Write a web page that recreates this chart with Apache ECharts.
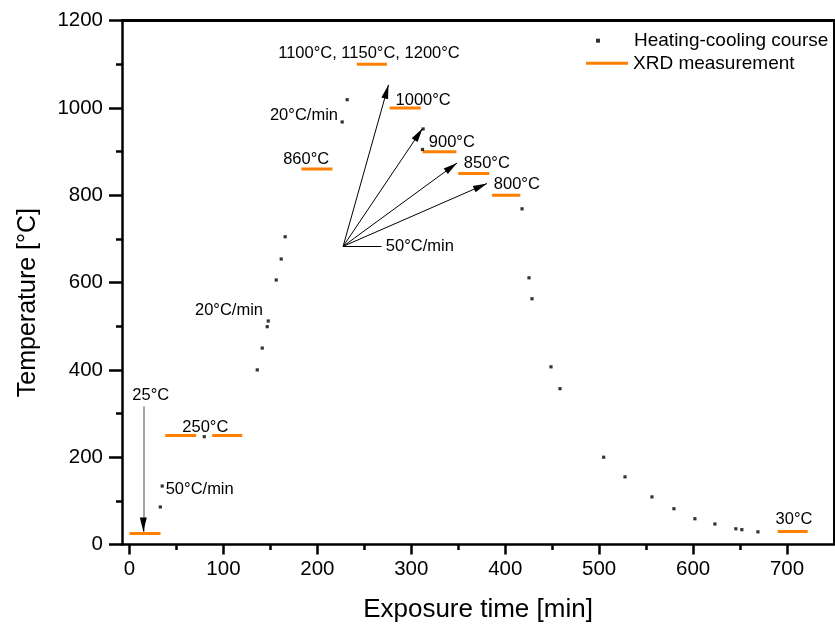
<!DOCTYPE html>
<html>
<head>
<meta charset="utf-8">
<title>Heating-cooling course</title>
<script src="https://cdn.jsdelivr.net/npm/echarts@6/dist/echarts.min.js"></script>
<style>
  html, body { margin: 0; padding: 0; background: #fff; }
  #main { width: 835px; height: 628px; }
</style>
</head>
<body>
<div id="main"></div>
<script>
// heating-cooling course (dots)
const timeMin = [32.8, 34.8, 79.6, 136, 141.3, 146.6, 147.7, 156.2, 161.5, 165.7, 226.4, 231.7,
  311.9, 312.6, 417.9, 425.3, 428.5, 448.7, 458.3, 504.8, 527.5, 556.2, 579.6, 601.9, 623.2,
  645.5, 651.9, 669];
const tempC = [86, 134, 247, 400, 450, 499, 512, 606, 654, 705, 968, 1019,
  905, 952, 769, 611, 563, 407, 357, 200, 155, 109, 82, 59, 47,
  36, 34, 29];

// XRD measurements (orange bars)
const xrdStart = [0, 38, 88, 183, 242, 277, 312, 350, 386, 690];
const xrdEnd = [33, 71, 120, 216, 274, 310, 348, 383, 416, 722];
const xrdTemp = [25, 250, 250, 860, 1100, 1000, 900, 850, 800, 30];

// ticks
const xTicks = [0, 100, 200, 300, 400, 500, 600, 700];
const xMinorTicks = [50, 150, 250, 350, 450, 550, 650];

// text annotations: left edge / vertical centre in data units
const noteText = ['1100°C, 1150°C, 1200°C', '20°C/min', '860°C', '1000°C', '900°C', '850°C',
  '800°C', '50°C/min', '20°C/min', '25°C', '250°C', '50°C/min', '30°C'];
const noteX = [158.3, 149.5, 163.6, 283.2, 318.6, 355.9, 387.8, 272.9, 69.7, 3, 56.2, 38.5, 687.8];
const noteY = [1124, 984, 882, 1017, 921, 872, 824, 683, 536, 341, 269, 125, 57];

// rate arrows: from -> to
const arrowFrom = [[227.4, 683], [227.4, 683], [227.4, 683], [227.4, 683]];
const arrowTo = [[275.7, 1053], [311.9, 953], [348.7, 874], [380.6, 827]];
const rateLine = [[227.4, 683], [268.3, 683]];
const coolArrow = [[14.7, 316], [14.7, 30]];

const chart = echarts.init(document.getElementById('main'));
const font = 'Liberation Sans, Arial, sans-serif';
const ink = '#000';

const heatData = timeMin.map((t, i) => [t, tempC[i]]);
const xrdData = [];
xrdStart.forEach((s, i) => {
  xrdData.push([s, xrdTemp[i]], [xrdEnd[i], xrdTemp[i]], [xrdEnd[i], '-']);
});
const noteData = noteX.map((x, i) => [x, noteY[i]]);

const arrowHead = { symbol: 'triangle', symbolSize: [7, 14], symbolOffset: [0, 7] };
const markData = arrowFrom.map((f, i) => [
  { coord: f, symbol: 'none' },
  Object.assign({ coord: arrowTo[i] }, arrowHead)
]);
markData.push([{ coord: rateLine[0], symbol: 'none' }, { coord: rateLine[1], symbol: 'none' }]);
markData.push([
  { coord: coolArrow[0], symbol: 'none', lineStyle: { color: '#888', width: 1.5 } },
  { coord: coolArrow[1], symbol: 'none' }
]);
markData.push([
  { coord: [coolArrow[1][0], coolArrow[1][1] + 30], symbol: 'none' },
  Object.assign({ coord: coolArrow[1] }, arrowHead)
]);

const option = {
  animation: false,
  textStyle: { fontFamily: font, color: ink },
  grid: { left: 122, right: 1, top: 20.7, bottom: 83.5 },
  legend: [
    {
      data: [{ name: 'Heating-cooling course', icon: 'rect' }],
      left: 596, top: 31.2, padding: 0,
      itemWidth: 4, itemHeight: 4, selectedMode: false,
      textStyle: { fontFamily: font, fontSize: 19, color: ink, padding: [0, 0, 0, 29] }
    },
    {
      data: [{ name: 'XRD measurement', icon: 'rect' }],
      left: 586, top: 53.8, padding: 0,
      itemWidth: 42, itemHeight: 3, selectedMode: false,
      textStyle: { fontFamily: font, fontSize: 19, color: ink }
    }
  ],
  xAxis: [
    {
      type: 'value', min: -8, max: 750, position: 'bottom',
      name: 'Exposure time [min]', nameLocation: 'middle', nameGap: 52,
      nameTextStyle: { fontFamily: font, fontSize: 26, color: ink },
      axisLine: { onZero: false, lineStyle: { color: '#000', width: 2.5 } },
      axisTick: { customValues: xTicks, length: 10, lineStyle: { color: '#000', width: 2.5 } },
      axisLabel: { customValues: xTicks, fontFamily: font, fontSize: 20.5, color: ink, margin: 14 },
      splitLine: { show: false }
    },
    {
      type: 'value', min: -8, max: 750, position: 'bottom',
      axisLine: { show: false },
      axisTick: { customValues: xMinorTicks, length: 5.5, lineStyle: { color: '#000', width: 2.5 } },
      axisLabel: { show: false },
      splitLine: { show: false }
    },
    {
      type: 'value', min: -8, max: 750, position: 'top',
      axisLine: { onZero: false, lineStyle: { color: '#000', width: 3 } },
      axisTick: { show: false }, axisLabel: { show: false }, splitLine: { show: false }
    }
  ],
  yAxis: [
    {
      type: 'value', min: 0, max: 1200, interval: 200, position: 'left',
      name: 'Temperature [°C]', nameLocation: 'middle', nameGap: 81,
      nameTextStyle: { fontFamily: font, fontSize: 25, color: ink, padding: [0, 40, 0, 0] },
      axisLine: { onZero: false, lineStyle: { color: '#000', width: 2.5 } },
      axisTick: { length: 13, lineStyle: { color: '#000', width: 2.5 } },
      minorTick: { show: true, splitNumber: 2, length: 6, lineStyle: { color: '#000', width: 2.5 } },
      axisLabel: { fontFamily: font, fontSize: 20.5, color: ink, margin: 19, formatter: v => String(v) },
      splitLine: { show: false }
    },
    {
      type: 'value', min: 0, max: 1200, position: 'right',
      axisLine: { onZero: false, lineStyle: { color: '#000', width: 2 } },
      axisTick: { show: false }, axisLabel: { show: false }, splitLine: { show: false }
    }
  ],
  series: [
    {
      name: 'Heating-cooling course', type: 'scatter',
      symbol: 'rect', symbolSize: 3.2,
      itemStyle: { color: '#000' },
      data: heatData, silent: true, z: 4
    },
    {
      name: 'XRD measurement', type: 'line',
      data: xrdData, connectNulls: false,
      showSymbol: false, symbol: 'none',
      lineStyle: { color: '#ff7f00', width: 3 },
      itemStyle: { color: '#ff7f00' },
      silent: true, z: 3
    },
    {
      name: 'notes', type: 'scatter',
      symbolSize: 0, data: noteData, silent: true, z: 5,
      label: {
        show: true, position: 'right', distance: 0,
        fontFamily: font, fontSize: 16.5, color: '#000', opacity: 1,
        formatter: p => noteText[p.dataIndex]
      },
      markLine: {
        silent: true, animation: false,
        symbol: ['none', 'none'],
        label: { show: false },
        lineStyle: { color: '#000', width: 1, type: 'solid' },
        emphasis: { disabled: true },
        data: markData
      }
    }
  ]
};

option && chart.setOption(option);
</script>
</body>
</html>
